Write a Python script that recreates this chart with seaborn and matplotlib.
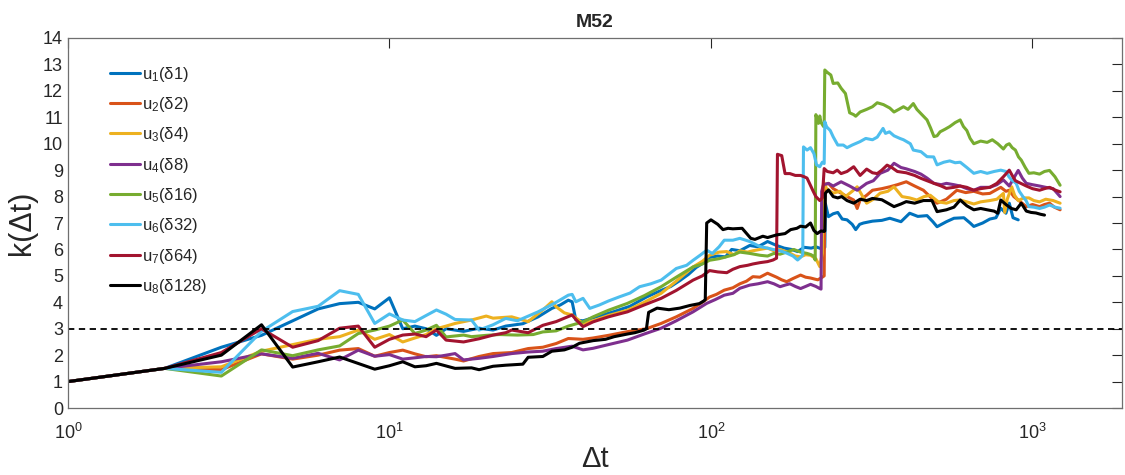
import numpy as np
import pandas as pd
import matplotlib
matplotlib.use('Agg')
import matplotlib.pyplot as plt
import seaborn as sns

# k(dt), one list of (dt, k) per series
u1 = [(1, 1.0), (2, 1.5), (3, 2.3), (4, 2.75), (5, 3.3), (6, 3.75), (7, 3.95), (8, 4.0), (9, 3.75), (10, 4.17),
      (11, 3.0), (12, 3.1), (13, 3.0), (14, 2.75), (15, 3.0), (17, 2.9), (19, 3.02), (21, 2.95), (23, 3.1), (26, 3.19),
      (29, 3.45), (32, 3.77), (34, 3.9), (36, 4.08), (37, 4.02), (38, 3.33), (40, 3.3), (44, 3.45), (47, 3.55), (50, 3.65),
      (56, 3.85), (63, 4.2), (70, 4.45), (75, 4.6), (80, 4.82), (85, 5.05), (90, 5.32), (95, 5.5), (99, 5.7), (105, 5.75),
      (111, 5.72), (116, 6.0), (123, 5.95), (132, 6.15), (140, 6.1), (150, 6.3), (160, 6.15), (169, 6.05), (178, 6.0),
      (186, 5.92), (195, 6.08), (205, 6.05), (212, 6.1), (220, 6.03), (226, 6.08), (227, 7.73), (232, 7.24), (240, 7.35),
      (248, 7.4), (256, 7.15), (265, 7.12), (275, 6.95), (282, 6.75), (290, 6.95), (298, 7.0), (318, 7.07), (340, 7.1),
      (360, 7.18), (390, 7.05), (415, 7.37), (440, 7.25), (470, 7.28), (490, 7.05), (505, 6.86), (540, 7.05), (570, 7.18),
      (612, 7.2), (640, 7.0), (657, 6.87), (700, 7.0), (737, 7.15), (770, 7.2), (797, 7.56), (827, 7.37), (847, 7.75),
      (870, 7.2), (903, 7.12)]

u2 = [(1, 1.0), (2, 1.5), (3, 1.45), (4, 2.05), (5, 1.85), (6, 2.0), (7, 2.19), (8, 2.25), (9, 1.96), (10, 2.1),
      (11, 2.19), (12, 2.05), (13, 1.94), (14, 1.98), (16, 1.85), (17, 1.78), (19, 1.95), (21, 2.06), (24, 2.1), (27, 2.25),
      (30, 2.3), (33, 2.44), (36, 2.63), (40, 2.6), (43, 2.65), (48, 2.75), (55, 2.89), (63, 3.0), (70, 3.2), (78, 3.45),
      (88, 3.77), (94, 4.0), (99, 4.2), (104, 4.3), (110, 4.46), (117, 4.55), (123, 4.7), (129, 4.8), (135, 4.97),
      (142, 4.95), (150, 5.1), (160, 4.95), (166, 4.85), (172, 4.78), (180, 4.9), (190, 5.03), (197, 4.95), (204, 4.92),
      (210, 4.88), (215, 4.85), (222, 4.95), (225, 5.0), (226, 8.45), (232, 8.5), (240, 8.3), (254, 8.13), (265, 8.0),
      (278, 7.87), (285, 7.55), (291, 7.87), (305, 8.05), (318, 8.24), (340, 8.3), (360, 8.37), (380, 8.45), (405, 8.56),
      (430, 8.4), (458, 8.24), (480, 8.0), (505, 7.75), (540, 7.9), (582, 8.24), (620, 8.15), (657, 8.2), (700, 8.1),
      (737, 8.12), (770, 8.25), (797, 8.35), (827, 8.2), (847, 8.24), (875, 8.0), (903, 7.87), (957, 7.62), (1000, 7.7),
      (1052, 7.62), (1090, 7.7), (1130, 7.75), (1170, 7.6), (1219, 7.5)]

u3 = [(1, 1.0), (2, 1.5), (3, 1.56), (4, 2.15), (5, 2.4), (6, 2.6), (7, 2.7), (8, 2.95), (9, 2.6), (10, 2.78),
      (11, 2.5), (12, 2.65), (13, 2.78), (14, 3.0), (15, 3.1), (16, 3.2), (18, 3.33), (20, 3.48), (21, 3.4), (24, 3.45),
      (27, 3.27), (30, 3.71), (32, 4.02), (33, 3.83), (35, 3.6), (37, 3.52), (40, 3.2), (43, 3.3), (48, 3.5), (55, 3.7),
      (62, 4.0), (70, 4.34), (78, 4.8), (88, 5.34), (94, 5.55), (99, 5.78), (106, 5.9), (112, 5.92), (118, 5.8),
      (123, 5.95), (130, 5.9), (135, 5.95), (142, 6.0), (150, 6.05), (157, 5.95), (164, 6.0), (176, 5.86), (183, 5.75),
      (190, 5.72), (197, 5.8), (204, 5.78), (212, 5.65), (218, 5.35), (222, 5.86), (223, 8.0), (224, 8.56), (229, 8.3),
      (240, 8.13), (252, 8.2), (262, 8.0), (275, 8.2), (285, 8.37), (295, 8.05), (305, 7.75), (320, 7.9), (336, 8.13),
      (355, 8.2), (371, 8.37), (393, 8.0), (415, 7.95), (437, 7.87), (460, 8.0), (481, 8.05), (510, 7.8), (540, 7.75),
      (570, 7.85), (596, 7.87), (625, 7.8), (657, 7.72), (690, 7.8), (737, 7.85), (775, 7.9), (812, 8.12), (820, 7.4),
      (835, 7.9), (862, 8.37), (880, 8.05), (903, 7.85), (940, 7.95), (975, 7.95), (1010, 7.85), (1052, 7.8),
      (1100, 7.9), (1160, 7.85), (1219, 7.75)]

u4 = [(1, 1.0), (2, 1.5), (3, 1.75), (4, 2.05), (5, 1.88), (6, 2.07), (7, 1.82), (8, 2.19), (9, 1.96), (10, 2.02),
      (11, 1.85), (12, 1.9), (13, 1.95), (14, 1.94), (15, 2.0), (16, 2.06), (17, 1.82), (19, 1.88), (21, 1.95), (24, 2.06),
      (27, 2.12), (30, 2.15), (33, 2.25), (37, 2.34), (40, 2.2), (43, 2.26), (48, 2.4), (55, 2.57), (62, 2.8), (70, 3.02),
      (78, 3.3), (88, 3.64), (97, 3.96), (103, 4.1), (110, 4.27), (117, 4.34), (123, 4.53), (132, 4.65), (140, 4.7),
      (150, 4.78), (157, 4.7), (164, 4.59), (170, 4.65), (176, 4.7), (183, 4.6), (190, 4.52), (197, 4.6), (204, 4.68),
      (212, 4.6), (218, 4.52), (220, 4.5), (221, 8.2), (224, 8.45), (232, 8.5), (240, 8.4), (254, 8.56), (270, 8.4),
      (285, 8.24), (305, 8.5), (320, 8.6), (336, 8.88), (355, 9.0), (371, 9.26), (390, 9.1), (405, 9.05), (430, 8.95),
      (450, 8.85), (470, 8.7), (494, 8.5), (520, 8.45), (540, 8.5), (570, 8.45), (596, 8.4), (625, 8.3), (657, 8.24),
      (690, 8.35), (737, 8.35), (775, 8.45), (812, 8.63), (847, 8.4), (875, 8.7), (903, 8.99), (930, 8.7), (957, 8.5),
      (1000, 8.45), (1052, 8.4), (1100, 8.35), (1160, 8.3), (1219, 8.0)]

u5 = [(1, 1.0), (2, 1.5), (3, 1.21), (4, 2.2), (5, 1.98), (6, 2.2), (7, 2.35), (8, 2.82), (9, 2.95), (10, 3.1),
      (11, 3.33), (12, 2.82), (13, 2.95), (14, 3.13), (15, 2.69), (17, 2.76), (18, 2.7), (20, 2.75), (22, 2.78),
      (25, 2.76), (28, 2.78), (30, 2.88), (33, 2.92), (36, 3.1), (40, 3.26), (43, 3.45), (48, 3.7), (55, 3.96),
      (62, 4.25), (70, 4.59), (78, 4.95), (88, 5.34), (94, 5.45), (99, 5.59), (106, 5.65), (110, 5.7), (117, 5.79),
      (123, 5.9), (132, 5.85), (142, 5.78), (150, 5.75), (157, 5.85), (164, 5.82), (172, 5.9), (181, 6.0), (190, 5.9),
      (199, 5.85), (205, 5.8), (209, 5.73), (211, 5.6), (212, 11.1), (214, 10.9), (216, 10.77), (218, 11.05),
      (220, 10.8), (224, 10.65), (225, 10.7), (226, 12.79), (230, 12.7), (236, 12.6), (240, 12.28), (248, 12.3),
      (254, 12.1), (262, 11.9), (270, 11.17), (278, 11.1), (282, 11.04), (291, 11.2), (305, 11.3), (318, 11.4),
      (329, 11.55), (344, 11.48), (360, 11.35), (371, 11.2), (384, 11.3), (397, 11.4), (410, 11.3), (426, 11.52),
      (437, 11.3), (449, 11.15), (470, 10.9), (482, 10.6), (494, 10.27), (505, 10.3), (516, 10.45), (535, 10.55),
      (553, 10.65), (575, 10.8), (596, 10.9), (610, 10.65), (625, 10.5), (640, 10.2), (657, 10.0), (690, 10.1),
      (723, 10.05), (750, 10.15), (780, 10.0), (812, 9.8), (830, 9.95), (847, 10.0), (865, 9.85), (885, 9.76),
      (905, 9.5), (923, 9.38), (950, 9.1), (975, 8.88), (1010, 8.9), (1052, 8.85), (1090, 8.95), (1130, 8.99),
      (1175, 8.75), (1219, 8.43)]

u6 = [(1, 1.0), (2, 1.5), (3, 1.35), (4, 2.9), (5, 3.65), (6, 3.85), (7, 4.44), (8, 4.3), (9, 3.2), (10, 3.56),
      (11, 3.33), (12, 3.27), (13, 3.5), (14, 3.71), (15, 3.55), (16, 3.35), (18, 3.33), (19, 2.95), (21, 3.15),
      (23, 3.39), (25, 3.3), (29, 3.64), (33, 4.0), (36, 4.27), (37, 4.3), (38, 4.02), (40, 4.15), (42, 3.77), (45, 3.9),
      (48, 4.05), (52, 4.21), (56, 4.35), (60, 4.59), (65, 4.7), (70, 4.84), (78, 5.28), (84, 5.4), (88, 5.59),
      (93, 5.8), (97, 5.97), (101, 5.85), (106, 6.1), (110, 6.35), (117, 6.35), (123, 6.42), (132, 6.3), (142, 6.11),
      (150, 6.05), (156, 6.0), (164, 5.95), (172, 5.86), (180, 5.75), (186, 5.6), (190, 5.7), (193, 5.8), (194, 9.88),
      (199, 9.76), (204, 9.85), (209, 9.63), (213, 9.2), (218, 9.13), (222, 9.3), (225, 9.25), (226, 10.83),
      (229, 10.64), (235, 10.5), (240, 10.26), (248, 9.95), (258, 9.95), (265, 9.85), (275, 9.95), (291, 10.08),
      (303, 10.2), (318, 10.15), (329, 10.25), (343, 10.58), (349, 10.39), (359, 10.45), (371, 10.3), (387, 10.2),
      (397, 10.15), (417, 10.0), (426, 9.76), (450, 9.7), (470, 9.51), (493, 9.5), (505, 9.2), (530, 9.3), (553, 9.35),
      (575, 9.28), (596, 9.3), (625, 9.1), (657, 8.88), (690, 8.95), (723, 8.88), (760, 8.95), (797, 9.0), (827, 8.95),
      (845, 8.75), (862, 8.63), (890, 8.5), (910, 8.2), (934, 8.0), (955, 7.85), (975, 7.62), (1010, 7.6),
      (1052, 7.55), (1090, 7.6), (1130, 7.68), (1175, 7.6), (1219, 7.56)]

u7 = [(1, 1.0), (2, 1.5), (3, 2.1), (4, 3.0), (5, 2.3), (6, 2.55), (7, 3.02), (8, 3.1), (9, 2.3), (10, 2.6),
      (11, 2.76), (12, 2.8), (13, 2.7), (14, 2.95), (15, 2.57), (17, 2.5), (19, 2.62), (21, 2.76), (23, 2.85),
      (24, 2.95), (27, 2.85), (30, 3.13), (33, 3.27), (37, 3.52), (38, 3.35), (40, 3.08), (43, 3.26), (48, 3.45),
      (55, 3.64), (62, 3.9), (70, 4.15), (78, 4.45), (88, 4.84), (94, 5.0), (99, 5.2), (105, 5.15), (112, 5.12),
      (117, 5.25), (123, 5.35), (130, 5.4), (135, 5.45), (142, 5.5), (150, 5.54), (156, 5.6), (160, 5.67), (161, 9.6),
      (166, 9.55), (170, 8.87), (176, 8.87), (183, 8.8), (190, 8.8), (195, 8.75), (199, 8.7), (204, 8.42), (208, 8.2),
      (212, 8.0), (218, 7.85), (222, 7.95), (225, 9.06), (230, 8.95), (240, 8.9), (247, 9.0), (254, 8.87), (265, 8.95),
      (278, 9.13), (291, 8.8), (305, 9.04), (318, 8.9), (329, 8.87), (340, 9.0), (353, 9.19), (365, 9.1), (380, 8.95),
      (405, 8.9), (430, 8.8), (450, 8.69), (470, 8.6), (494, 8.5), (520, 8.4), (540, 8.31), (570, 8.35), (596, 8.4),
      (625, 8.35), (657, 8.24), (690, 8.3), (737, 8.35), (775, 8.5), (812, 8.75), (847, 9.0), (865, 8.8), (885, 8.6),
      (920, 8.5), (957, 8.4), (1000, 8.3), (1052, 8.24), (1090, 8.3), (1130, 8.35), (1175, 8.25), (1219, 8.18)]

u8 = [(1, 1.0), (2, 1.5), (3, 2.0), (4, 3.15), (5, 1.55), (6, 1.75), (7, 1.93), (9, 1.47), (10, 1.6), (11, 1.75),
      (12, 1.56), (13, 1.6), (14, 1.69), (16, 1.5), (18, 1.52), (19, 1.45), (21, 1.58), (23, 1.62), (26, 1.66),
      (27, 1.92), (30, 1.95), (32, 2.15), (35, 2.2), (37, 2.3), (39, 2.45), (43, 2.55), (47, 2.6), (50, 2.7), (55, 2.8),
      (58, 2.85), (62, 2.95), (63, 3.0), (64, 3.62), (68, 3.78), (74, 3.72), (80, 3.78), (86, 3.88), (92, 3.95),
      (95, 4.05), (96, 4.1), (97, 7.0), (100, 7.12), (105, 6.95), (109, 6.75), (113, 6.8), (117, 6.78), (125, 6.8),
      (133, 6.42), (137, 6.38), (145, 6.5), (150, 6.45), (160, 6.55), (170, 6.6), (177, 6.75), (185, 6.8), (190, 6.88),
      (197, 6.85), (204, 7.0), (209, 6.72), (214, 6.6), (220, 6.7), (225, 6.68), (226, 6.7), (227, 8.13), (232, 8.25),
      (240, 8.0), (248, 7.95), (255, 8.0), (265, 7.85), (278, 7.75), (291, 7.9), (305, 7.85), (318, 7.93), (340, 7.88),
      (371, 7.62), (390, 7.72), (405, 7.81), (430, 7.75), (458, 7.85), (487, 7.85), (505, 7.43), (540, 7.5), (570, 7.6),
      (596, 7.87), (625, 7.65), (657, 7.5), (690, 7.55), (723, 7.5), (760, 7.45), (780, 7.37), (797, 7.87), (827, 7.7),
      (860, 7.55), (890, 7.5), (923, 7.75), (957, 7.45), (990, 7.4), (1025, 7.38), (1060, 7.33), (1090, 7.3)]

series = [u1, u2, u3, u4, u5, u6, u7, u8]
labels = ['u$_1$(δ1)', 'u$_2$(δ2)', 'u$_3$(δ4)', 'u$_4$(δ8)',
          'u$_5$(δ16)', 'u$_6$(δ32)', 'u$_7$(δ64)', 'u$_8$(δ128)']
colors = ['#0072BD', '#D95319', '#EDB120', '#7E2F8E', '#77AC30', '#4DBEEE', '#A2142F', '#000000']

sns.set_style('white')
plt.rcParams['font.family'] = ['Liberation Sans', 'DejaVu Sans']
plt.rcParams['mathtext.fontset'] = 'custom'
plt.rcParams['mathtext.rm'] = 'Liberation Sans'
plt.rcParams['mathtext.it'] = 'Liberation Sans'
plt.rcParams['mathtext.default'] = 'regular'

fig = plt.figure(figsize=(11.25, 4.75), dpi=100)
ax = fig.add_axes([0.0604, 0.141, 0.937, 0.779])

for pts, lab, c in zip(series, labels, colors):
    d = pd.DataFrame(pts, columns=['dt', 'k'])
    sns.lineplot(data=d, x='dt', y='k', color=c, label=lab, linewidth=2.2,
                 estimator=None, sort=False, ax=ax)

ax.axhline(3, color='k', linestyle=(0, (3.5, 2.5)), linewidth=1.3)

ax.set_xscale('log')
ax.set_xlim(1, 1900)
ax.set_ylim(0, 14)
ax.set_yticks(np.arange(0, 15, 1))
ax.set_xticks([1, 10, 100, 1000])
ax.minorticks_off()
ax.tick_params(direction='in', length=7, width=0.8, colors='#262626', labelsize=13,
               top=True, right=True, labelcolor='#262626')
ax.tick_params(axis='x', pad=11)
for s in ax.spines.values():
    s.set_color('#6f6f6f')
    s.set_linewidth(0.9)

ax.set_xlabel('Δt', fontsize=21, color='#262626', labelpad=1)
ax.set_ylabel('k(Δt)', fontsize=22, color='#262626', labelpad=4)
ax.set_title('M52', fontsize=14, fontweight='bold', pad=8)

ax.legend(loc='upper left', bbox_to_anchor=(0.03, 0.955), frameon=False, fontsize=12,
          handlelength=1.8, handletextpad=0.15, labelspacing=0.68, borderaxespad=0.2)

fig.savefig('out.png', dpi=100)
